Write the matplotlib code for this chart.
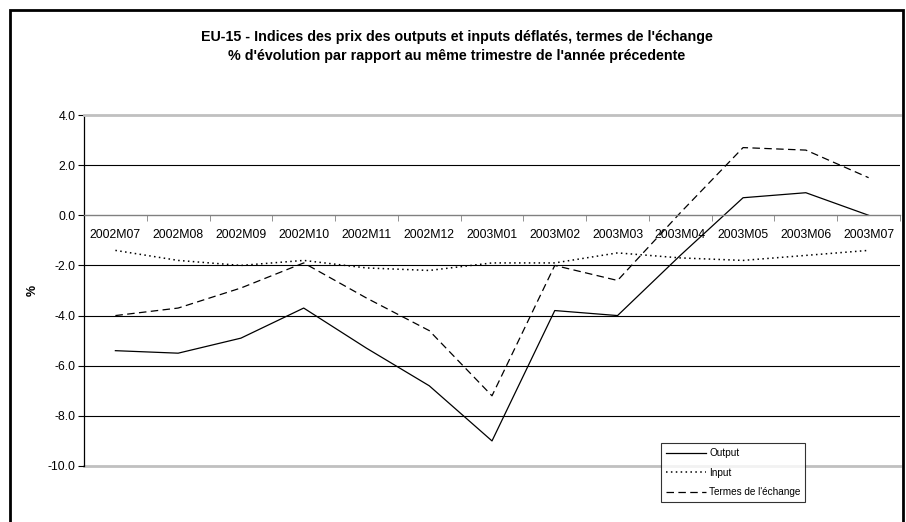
import matplotlib
matplotlib.use("Agg")
import matplotlib.pyplot as plt
from matplotlib.patches import Rectangle
from matplotlib.ticker import FixedLocator

plt.rcParams["font.family"] = ["Liberation Sans", "DejaVu Sans"]

# données
months = ["2002M07", "2002M08", "2002M09", "2002M10", "2002M11", "2002M12",
          "2003M01", "2003M02", "2003M03", "2003M04", "2003M05", "2003M06",
          "2003M07"]
output_vals = [-5.4, -5.5, -4.9, -3.7, -5.3, -6.8, -9.0, -3.8, -4.0, -1.6,
               0.7, 0.9, 0.0]
input_vals = [-1.4, -1.8, -2.0, -1.8, -2.1, -2.2, -1.9, -1.9, -1.5, -1.7,
              -1.8, -1.6, -1.4]
termes_vals = [-4.0, -3.7, -2.9, -1.9, -3.3, -4.6, -7.2, -2.0, -2.6, 0.1,
               2.7, 2.6, 1.5]
y_ticks = [-10, -8, -6, -4, -2, 0, 2, 4]

W, H = 906, 522
fig = plt.figure(figsize=(W / 100, H / 100), dpi=100)
fig.patch.set_facecolor("white")

# cadre extérieur
fig.add_artist(Rectangle((10 / W, -0.05), (903 - 10) / W, 1.05 - 10 / H,
                         transform=fig.transFigure, fill=False,
                         edgecolor="black", lw=2))

ax = fig.add_axes([84 / W, 1 - 466 / H, (900 - 84) / W, (466 - 115) / H])
x = list(range(len(months)))

ax.plot(x, output_vals, color="black", lw=0.9, ls="-", label="Output")
ax.plot(x, input_vals, color="black", lw=1.1, ls=(0, (1, 2.2)), label="Input")
ax.plot(x, termes_vals, color="black", lw=0.9, ls=(0, (6, 3.5)),
        label="Termes de l'échange")

ax.set_xlim(-0.5, len(months) - 0.5)
ax.set_ylim(-10, 4)

# grille
for v in y_ticks:
    if v in (-10, 0, 4):
        continue
    ax.axhline(v, color="black", lw=0.8, zorder=0)
ax.axhline(-10, color="#c0c0c0", lw=2, zorder=0, clip_on=False)

ax.spines["right"].set_visible(False)
ax.spines["top"].set_color("#c0c0c0")
ax.spines["top"].set_linewidth(2)
ax.spines["left"].set_color("black")
ax.spines["left"].set_linewidth(0.9)
ax.spines["bottom"].set_position(("data", 0))
ax.spines["bottom"].set_color("#808080")
ax.spines["bottom"].set_linewidth(1.0)

ax.set_xticks(x)
ax.set_xticklabels(months, fontsize=8.8)
ax.xaxis.set_minor_locator(FixedLocator([i + 0.5 for i in range(len(months))]))
ax.tick_params(axis="x", which="major", length=0, pad=10)
ax.tick_params(axis="x", which="minor", length=4, direction="out",
               color="#808080")

ax.set_yticks(y_ticks)
ax.set_yticklabels([f"{v:.1f}" for v in y_ticks], fontsize=8.8)
ax.tick_params(axis="y", length=4, direction="out", pad=2)

fig.text(33 / W, 1 - 290 / H, "%", rotation=90, fontsize=9,
         fontweight="bold", ha="center", va="center")

fig.text(457 / W, 1 - 37 / H,
         "EU-15 - Indices des prix des outputs et inputs déflatés, termes de l'échange",
         fontsize=10.3, fontweight="bold", ha="center", va="center")
fig.text(457 / W, 1 - 56 / H,
         "% d'évolution par rapport au même trimestre de l'année précedente",
         fontsize=10.3, fontweight="bold", ha="center", va="center")

leg = ax.legend(loc="upper left", bbox_to_anchor=(661 / W, 1 - 443 / H),
                bbox_transform=fig.transFigure, fontsize=7.2, frameon=True,
                fancybox=False, edgecolor="black", handlelength=4.0,
                labelspacing=0.95, borderpad=0.5, handletextpad=0.3,
                borderaxespad=0)
leg.get_frame().set_linewidth(0.8)

fig.savefig("out.png", dpi=100)
